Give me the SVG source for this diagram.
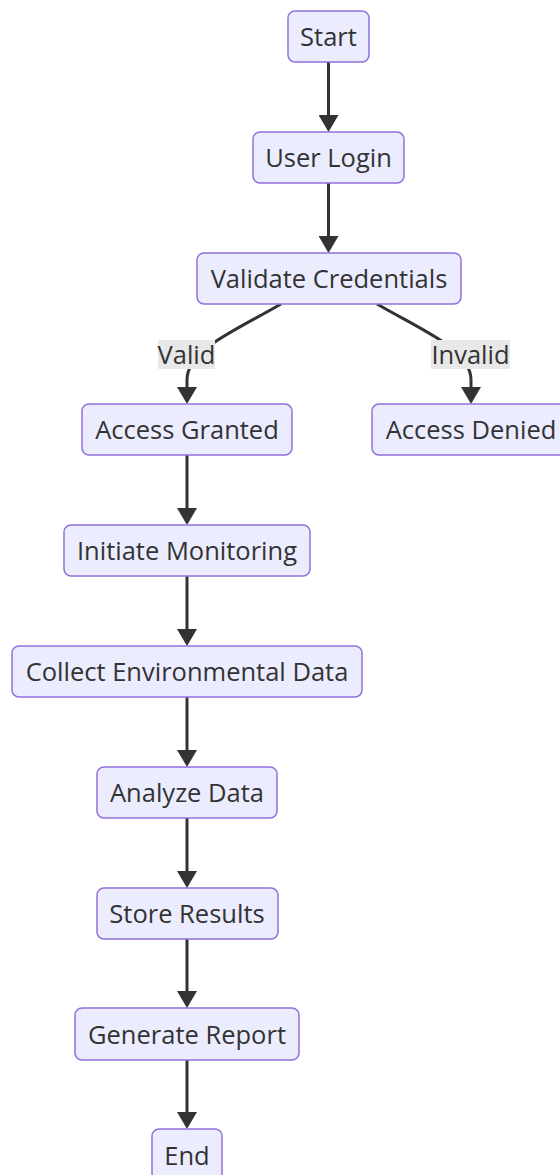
<svg xmlns="http://www.w3.org/2000/svg" width="560" height="1175" viewBox="0 0 560 1175">
<defs>
<style>
.node rect{fill:#ECECFF;stroke:#9370DB;stroke-width:1.5}
.node text{font-family:"Open Sans","DejaVu Sans",sans-serif;font-size:25.5px;fill:#333;text-anchor:middle;dominant-baseline:central}
.edge{fill:none;stroke:#333;stroke-width:3}
.lbl rect{fill:#e8e8e8}
.lbl text{font-family:"Open Sans","DejaVu Sans",sans-serif;font-size:25.5px;fill:#333;text-anchor:middle;dominant-baseline:central}
</style>
<marker id="arr" viewBox="0 0 17 20" markerWidth="17" markerHeight="20" refX="6" refY="10" orient="auto" markerUnits="userSpaceOnUse">
<path d="M0,0 L17,10 L0,20 z" fill="#333"/>
</marker>
</defs>
<rect width="560" height="1175" fill="#fff"/>
<g id="connectors">
<path class="edge" marker-end="url(#arr)" d="M328.5,62 L328.5,121"/>
<path class="edge" marker-end="url(#arr)" d="M328.5,183 L328.5,242"/>
<path class="edge" marker-end="url(#arr)" d="M281,304 C231,333 187,350 187,380 L187,393"/>
<path class="edge" marker-end="url(#arr)" d="M377,304 C427,333 471,350 471,380 L471,393"/>
<path class="edge" marker-end="url(#arr)" d="M187,455 L187,514"/>
<path class="edge" marker-end="url(#arr)" d="M187,576 L187,635"/>
<path class="edge" marker-end="url(#arr)" d="M187,697 L187,756"/>
<path class="edge" marker-end="url(#arr)" d="M187,818 L187,877"/>
<path class="edge" marker-end="url(#arr)" d="M187,939 L187,997"/>
<path class="edge" marker-end="url(#arr)" d="M187,1060 L187,1118"/>
<g class="lbl"><rect x="158" y="340" width="57" height="29"/><text x="186.5" y="354">Valid</text></g>
<g class="lbl"><rect x="431" y="340" width="79" height="29"/><text x="470.5" y="354">Invalid</text></g>
</g>
<g id="start" class="node"><rect x="288" y="11" width="81" height="51" rx="7"/><text x="328.5" y="36">Start</text></g>
<g id="login" class="node"><rect x="253" y="132" width="151" height="51" rx="7"/><text x="328.5" y="157">User Login</text></g>
<g id="validate" class="node"><rect x="197" y="253" width="264" height="51" rx="7"/><text x="329" y="278">Validate Credentials</text></g>
<g id="granted" class="node"><rect x="82" y="404" width="210" height="51" rx="7"/><text x="187" y="429">Access Granted</text></g>
<g id="denied" class="node"><rect x="372" y="404" width="198" height="51" rx="7"/><text x="471" y="429">Access Denied</text></g>
<g id="monitor" class="node"><rect x="64" y="525" width="246" height="51" rx="7"/><text x="187" y="550">Initiate Monitoring</text></g>
<g id="collect" class="node"><rect x="12" y="646" width="350" height="51" rx="7"/><text x="187" y="671">Collect Environmental Data</text></g>
<g id="analyze" class="node"><rect x="97" y="767" width="180" height="51" rx="7"/><text x="187" y="792">Analyze Data</text></g>
<g id="store" class="node"><rect x="97" y="888" width="181" height="51" rx="7"/><text x="187" y="913">Store Results</text></g>
<g id="report" class="node"><rect x="75" y="1008" width="224" height="52" rx="7"/><text x="187" y="1033.5">Generate Report</text></g>
<g id="end" class="node"><rect x="152" y="1129" width="70" height="51" rx="7"/><text x="187" y="1154.5">End</text></g>
</svg>
